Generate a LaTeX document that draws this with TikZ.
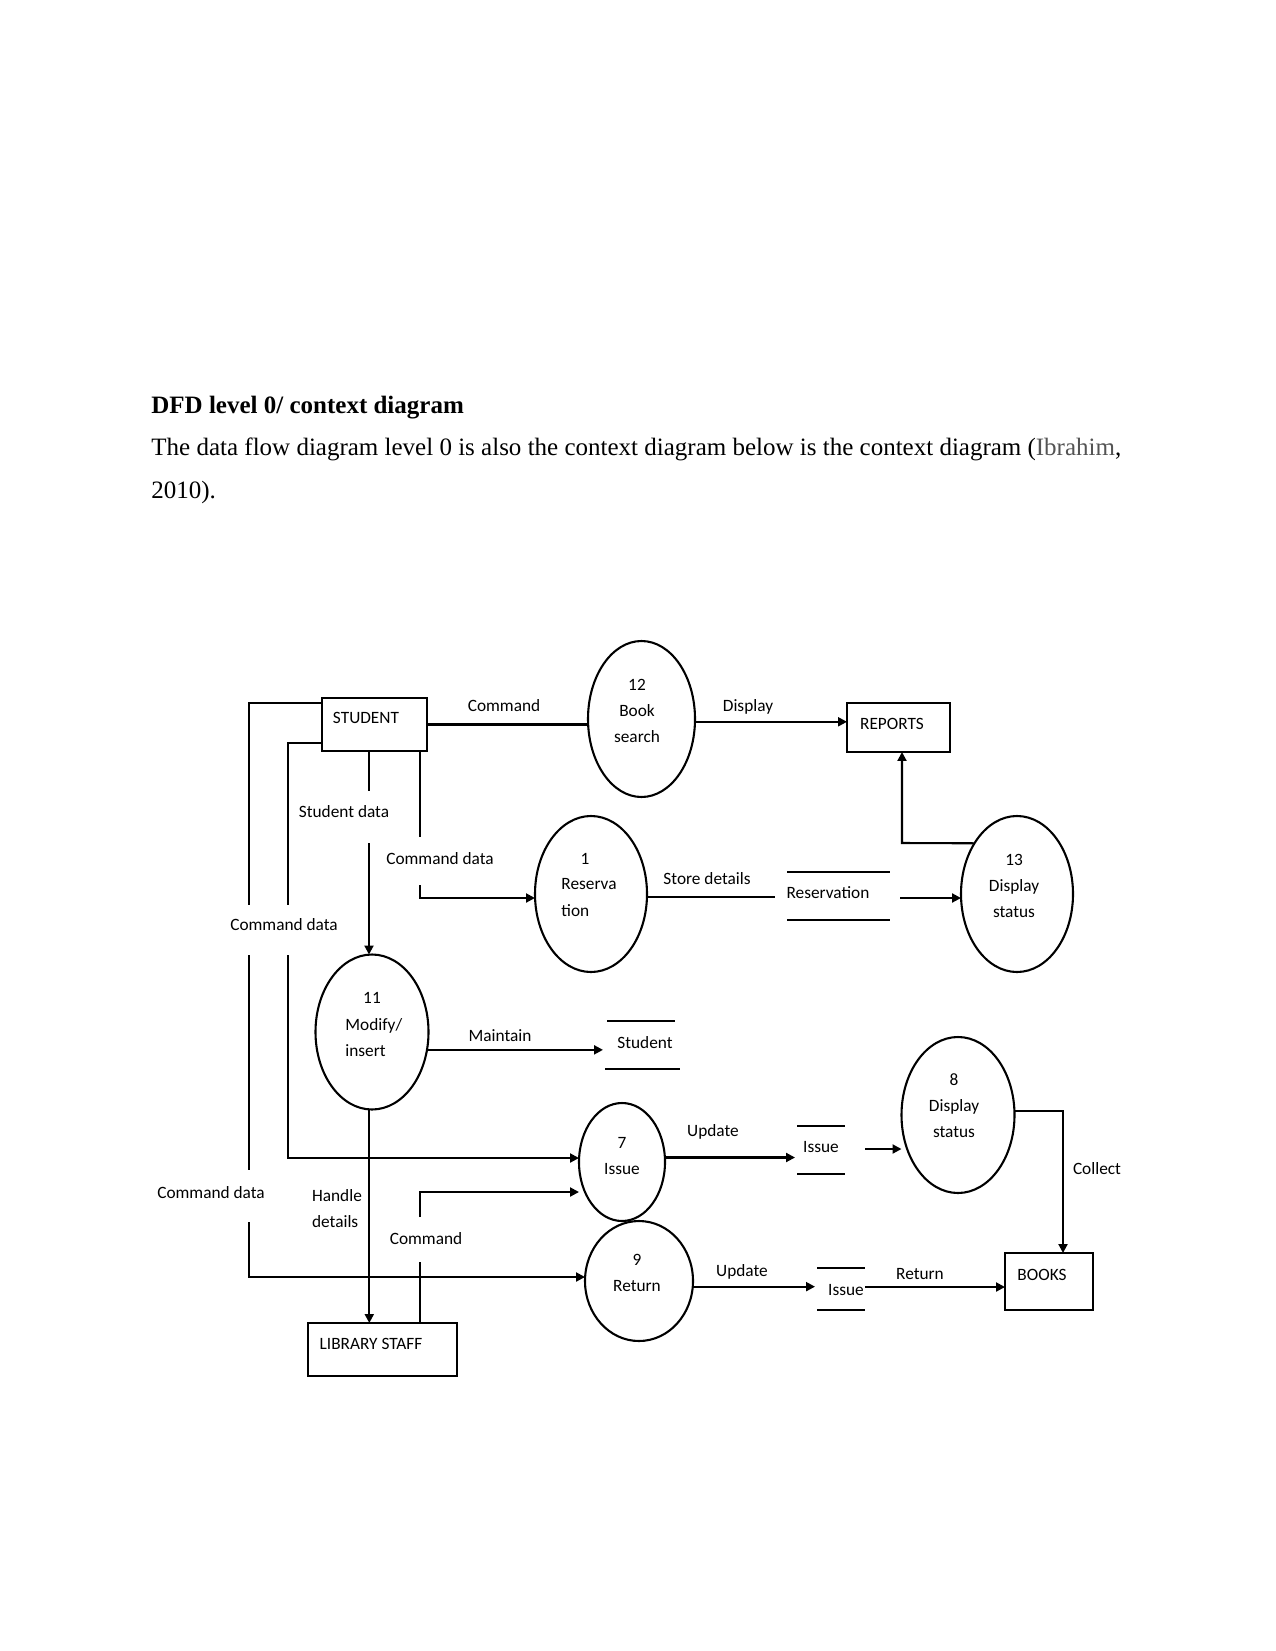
\documentclass[tikz,border=0pt]{standalone}
\usepackage{fontspec}
\setmainfont{Liberation Serif}
\newfontfamily\dfont{Carlito}
\usetikzlibrary{arrows.meta,shapes.geometric}
\definecolor{citegray}{rgb}{0.33,0.33,0.33}
\tikzset{
  box/.style 2 args={draw, rectangle, line width=1pt, inner sep=0pt, outer sep=0pt,
    minimum width=#1*0.48pt, minimum height=#2*0.48pt},
  proc/.style 2 args={draw, ellipse, line width=1pt, inner sep=0pt, outer sep=0pt,
    minimum width=#1*0.96pt, minimum height=#2*0.96pt},
  lbl/.style={font=\dfont\fontsize{8.3}{12.5}\selectfont, inner sep=0pt},
  flow/.style={line width=1pt},
  arr/.style={flow, -{Triangle[length=4.3pt,width=4.3pt]}},
  storeline/.style={line width=1pt},
  ptext/.style={font=\fontsize{12}{14}\selectfont, inner sep=0pt, anchor=base west},
}
\begin{document}
\begin{tikzpicture}[x=0.48pt, y=-0.48pt]
\useasboundingbox (0,0) rectangle (1275,1651);

% page text
\node[ptext, font=\fontsize{12}{14}\selectfont\bfseries] (title) at (151,413) {DFD level 0/ context diagram};
\node[ptext] (para1) at (151,455) {The data flow diagram level 0 is also the context diagram below is the context diagram ({\color{citegray}Ibrahim},};
\node[ptext] (para2) at (151,498) {2010).};

% external entities
\node[box={105}{53}] (student) at (374.5,724.5) {};
\node[lbl] (studentT) at (366,718) {STUDENT};
\node[box={103}{49}] (reports) at (898.5,727.5) {};
\node[lbl] (reportsT) at (892,724) {REPORTS};
\node[box={149}{53}] (library) at (382.5,1349.5) {};
\node[lbl] (libraryT) at (371,1344) {LIBRARY STAFF};
\node[box={88}{57}] (books) at (1049,1281.5) {};
\node[lbl] (booksT) at (1042,1275) {BOOKS};

% processes
\node[proc={53.5}{78}] (p12) at (641.5,719) {};
\node[lbl, align=center] (p12T) at (637,711) {12\\Book\\search};
\node[proc={56}{78}] (p1) at (591,894) {};
\node[lbl] (p1N) at (585,859) {1};
\node[lbl, align=left, anchor=west] (p1T) at (561,897.5) {Reserva\\tion};
\node[proc={56}{78}] (p13) at (1017,894) {};
\node[lbl, align=center] (p13T) at (1014,886) {13\\Display\\status};
\node[proc={56.5}{77.5}] (p11) at (372,1032) {};
\node[lbl] (p11N) at (372,998) {11};
\node[lbl, align=left, anchor=west] (p11T) at (345,1037.5) {Modify/\\insert};
\node[proc={43}{59}] (p7) at (622,1162) {};
\node[lbl, align=center] (p7T) at (622,1156) {7\\Issue};
\node[proc={54}{60}] (p9) at (639,1281) {};
\node[lbl, align=center] (p9T) at (637,1273) {9\\Return};
\node[proc={56.5}{78}] (p8) at (958,1115) {};
\node[lbl, align=center] (p8T) at (954,1106) {8\\Display\\status};

% data stores
\node[lbl] (resS) at (828,893) {Reservation};
\draw[storeline] (787,872) -- (890,872) (787,920) -- (890,920);
\node[lbl] (stuS) at (645,1043) {Student};
\draw[storeline] (607,1021) -- (675,1021) (605,1069) -- (680,1069);
\node[lbl] (iss1) at (821,1147) {Issue};
\draw[storeline] (797,1126) -- (845,1126) (797,1174) -- (845,1174);
\node[lbl] (iss2) at (846,1290) {Issue};
\draw[storeline] (817,1268) -- (865,1268) (817,1310) -- (865,1310);

% labels
\node[lbl] (lCommand) at (504,706) {Command};
\node[lbl] (lDisplay) at (748,707) {Display};
\node[lbl] (lStudentData) at (344,812) {Student data};
\node[lbl] (lCmdData1) at (440,859) {Command data};
\node[lbl] (lCmdData2) at (284,925) {Command data};
\node[lbl] (lCmdData3) at (211,1193) {Command data};
\node[lbl] (lStore) at (707,879) {Store details};
\node[lbl] (lMaintain) at (500,1036) {Maintain};
\node[lbl, align=left] (lHandle) at (337,1209) {Handle\\details};
\node[lbl] (lCommand2) at (426,1239) {Command};
\node[lbl] (lUpdate1) at (713,1132) {Update};
\node[lbl] (lUpdate2) at (742,1272) {Update};
\node[lbl] (lReturn) at (920,1274) {Return};
\node[lbl] (lCollect) at (1097,1169) {Collect};

% coordinates
\coordinate (k1) at (902,843);
\coordinate (k2a) at (420,837);
\coordinate (k2b) at (420,885);
\coordinate (k2c) at (420,898);
\coordinate (k3a) at (369,791);
\coordinate (k3b) at (369,843);
\coordinate (k4a) at (249,703);
\coordinate (k4b) at (249,905);
\coordinate (k4c) at (249,955);
\coordinate (k4d) at (249,1170);
\coordinate (k4e) at (249,1222);
\coordinate (k4f) at (249,1277);
\coordinate (k5a) at (288,743);
\coordinate (k5b) at (288,905);
\coordinate (k5c) at (288,955);
\coordinate (k5d) at (288,1158);
\coordinate (k6) at (603,1050);
\coordinate (k7a) at (420,1262);
\coordinate (k7b) at (420,1217);
\coordinate (k7c) at (420,1192);
\coordinate (k8) at (775,898);
\coordinate (k9) at (900,898);
\coordinate (k10) at (795,1157);
\coordinate (k11) at (865,1149);
\coordinate (k12) at (1063,1110);
\coordinate (k13) at (815,1287);
\coordinate (k14) at (865,1287);

% connectors
\draw[flow] (student.east) -- (student.east -| p12.west);
\draw[arr] (p12.-3) -- (p12.-3 -| reports.west);
\draw[arr] (p13.130) -- (k1) -- (k1 |- reports.south);
\draw[flow] (k2a |- student.south) -- (k2a);
\draw[arr] (k2b) -- (k2c) -- (k2c -| p1.west);
\draw[flow] (k3a |- student.south) -- (k3a);
\draw[arr] (k3b) -- (k3b |- p11.north);
\draw[flow] (k4a -| student.west) -- (k4a) -- (k4b);
\draw[flow] (k4c) -- (k4d);
\draw[arr] (k4e) -- (k4f) -- (k4f -| p9.west);
\draw[flow] (k5a -| student.west) -- (k5a) -- (k5b);
\draw[arr] (k5c) -- (k5d) -- (k5d -| p7.west);
\draw[arr] (p11.-18) -- (p11.-18 -| k6);
\draw[arr] (p11.-92) -- (p11.-92 |- library.north);
\draw[flow] (k7a |- library.north) -- (k7a);
\draw[arr] (k7b) -- (k7c) -- (k7c -| p7.west);
\draw[flow] (p1.-3) -- (p1.-3 -| k8);
\draw[arr] (k9) -- (k9 -| p13.west);
\draw[arr] (p7.6) -- (p7.6 -| k10);
\draw[arr] (k11) -- (k11 -| p8.west);
\draw[arr] (p8.4) -- (p8.4 -| k12) -- (k12 |- books.north);
\draw[arr] (p9.-6) -- (p9.-6 -| k13);
\draw[arr] (k14) -- (k14 -| books.west);
\end{tikzpicture}
\end{document}
